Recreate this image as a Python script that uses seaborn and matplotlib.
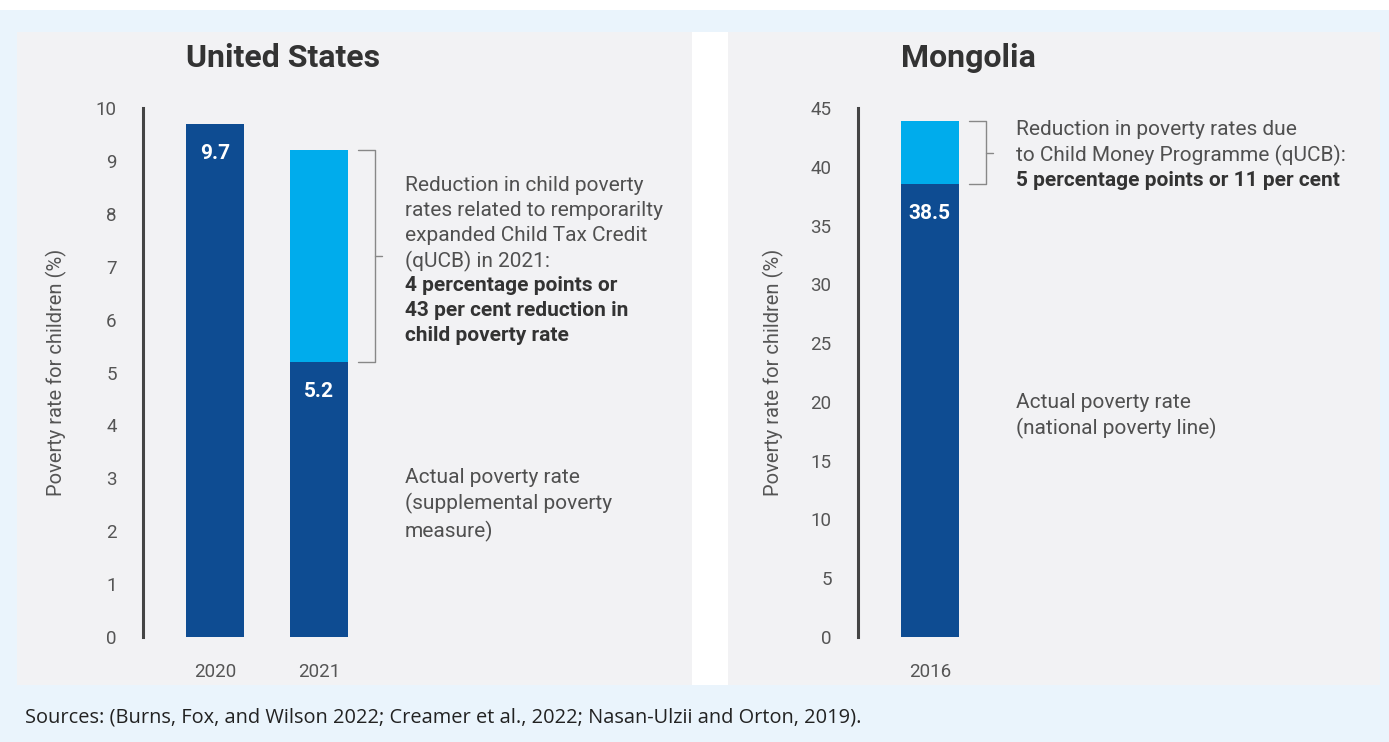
import matplotlib
matplotlib.use("Agg")
import matplotlib.pyplot as plt
import matplotlib.transforms as mtransforms
from matplotlib.patches import Rectangle
import seaborn as sns
import pandas as pd

# Data
us_years = ['2020', '2021']
us_actual = [9.7, 5.2]
us_reduction = [0.0, 4.0]
us_ticks = list(range(0, 11))

mn_years = ['2016']
mn_actual = [38.5]
mn_reduction = [5.4]
mn_ticks = list(range(0, 46, 5))

DARK = '#0E4C92'
LIGHT = '#00ACEC'
PANEL = '#F2F2F4'
OUTER = '#EAF4FC'
BAR_W = 0.56

sns.set_style('white')
plt.rcParams['font.family'] = ['Roboto', 'DejaVu Sans']

W, H = 1389, 742
fig = plt.figure(figsize=(W / 100, H / 100), dpi=100, facecolor='white')

# backgrounds
fig.patches.append(Rectangle((0, 0), 1, 1 - 10 / H, transform=fig.transFigure,
                             facecolor=OUTER, edgecolor='none', zorder=-3))
fig.patches.append(Rectangle((692 / W, 0.0768), 36 / W, 0.8801, transform=fig.transFigure,
                             facecolor='white', edgecolor='none', zorder=-2))
fig.patches.append(Rectangle((17 / W, 0.0768), (692 - 17) / W, 0.8801,
                             transform=fig.transFigure, facecolor=PANEL,
                             edgecolor='none', zorder=-1))
fig.patches.append(Rectangle((728 / W, 0.0768), (1380 - 728) / W, 0.8801,
                             transform=fig.transFigure, facecolor=PANEL,
                             edgecolor='none', zorder=-1))

ax_bottom = 1 - 637 / H
ax_height = (637 - 108) / H
ax_us = fig.add_axes([143 / W, ax_bottom, 547 / W, ax_height])
ax_mn = fig.add_axes([858 / W, ax_bottom, 519 / W, ax_height])

TXT = 15
LS = 1.39
GREY_TXT = '#505050'


def draw_panel(ax, years, actual, reduction, ticks, title, ylab_x, notes):
    df = pd.DataFrame({'year': years, 'actual': actual, 'reduction': reduction})
    df['total'] = df['actual'] + df['reduction']
    sns.barplot(data=df, x='year', y='total', color=LIGHT, saturation=1,
                width=BAR_W, ax=ax, zorder=2, linewidth=0)
    sns.barplot(data=df, x='year', y='actual', color=DARK, saturation=1,
                width=BAR_W, ax=ax, zorder=3, linewidth=0)
    ax.patch.set_alpha(0)
    n_px = ax.get_position().width * W
    ax.set_xlim(-0.69, -0.69 + n_px / 104)
    ax.set_ylim(ticks[0], ticks[-1])
    ax.set_yticks(ticks)
    ax.set_xlabel('')
    ax.set_ylabel('Poverty rate for children (%)', fontsize=14.5, color='#555555')
    ax.yaxis.set_label_coords(ylab_x, 0.5)
    ax.tick_params(axis='both', length=0, labelsize=13.5, colors='#555555')
    ax.tick_params(axis='y', pad=19)
    ax.tick_params(axis='x', pad=19)
    for s in ['top', 'right', 'bottom']:
        ax.spines[s].set_visible(False)
    ax.spines['left'].set_color('#444444')
    ax.spines['left'].set_linewidth(2.2)

    # value labels
    for i, v in enumerate(actual):
        ax.annotate(f'{v:.1f}', xy=(i, v), xytext=(0, -21), textcoords='offset points',
                    ha='center', va='center', color='white', fontsize=15,
                    fontweight='bold')

    # title, aligned with first bar left edge
    tr = mtransforms.blended_transform_factory(ax.transData, fig.transFigure)
    fig.text(-BAR_W / 2, 1 - 58 / H, title, transform=tr, fontsize=23,
             fontweight='bold', color='#333333', ha='left', va='center')

    # bracket around the reduction part of the last bar
    i = len(actual) - 1
    lo, hi = actual[i], actual[i] + reduction[i]
    x0 = i + BAR_W / 2 + 0.1
    x1 = x0 + 0.16
    ax.plot([x0, x1, x1, x0], [hi, hi, lo, lo], color='#888888', lw=1, zorder=4,
            clip_on=False)
    mid = (lo + hi) / 2
    ax.plot([x1, x1 + 0.07], [mid, mid], color='#888888', lw=1, zorder=4)

    tx = x1 + 0.29
    reg, bold, reg_dy, bold_dy, act_text, act_y = notes
    ax.annotate(reg, xy=(tx, mid), xytext=(0, reg_dy), textcoords='offset points',
                ha='left', va='center', fontsize=TXT, color=GREY_TXT,
                linespacing=LS)
    ax.annotate(bold, xy=(tx, mid), xytext=(0, bold_dy), textcoords='offset points',
                ha='left', va='center', fontsize=TXT, color='#333333',
                fontweight='bold', linespacing=LS)
    ax.text(tx, act_y, act_text, ha='left', va='center', fontsize=TXT,
            color=GREY_TXT, linespacing=LS)


draw_panel(ax_us, us_years, us_actual, us_reduction, us_ticks, 'United States',
           (67 - 143) / 547,
           ('Reduction in child poverty\nrates related to remporarilty\n'
            'expanded Child Tax Credit\n(qUCB) in 2021:',
            '4 percentage points or\n43 per cent reduction in\nchild poverty rate',
            23, -39,
            'Actual poverty rate\n(supplemental poverty\nmeasure)', 2.5))

draw_panel(ax_mn, mn_years, mn_actual, mn_reduction, mn_ticks, 'Mongolia',
           (784 - 858) / 519,
           ('Reduction in poverty rates due\nto Child Money Programme (qUCB):',
            '5 percentage points or 11 per cent',
            7, -20,
            'Actual poverty rate\n(national poverty line)', 18.8))

fig.text(25 / W, 1 - 718 / H,
         'Sources: (Burns, Fox, and Wilson 2022; Creamer et al., 2022; '
         'Nasan-Ulzii and Orton, 2019).',
         fontsize=14.4, color='#222222', ha='left', va='center',
         family=['Open Sans', 'DejaVu Sans'])

fig.savefig('out.png', dpi=100, facecolor=fig.get_facecolor())
